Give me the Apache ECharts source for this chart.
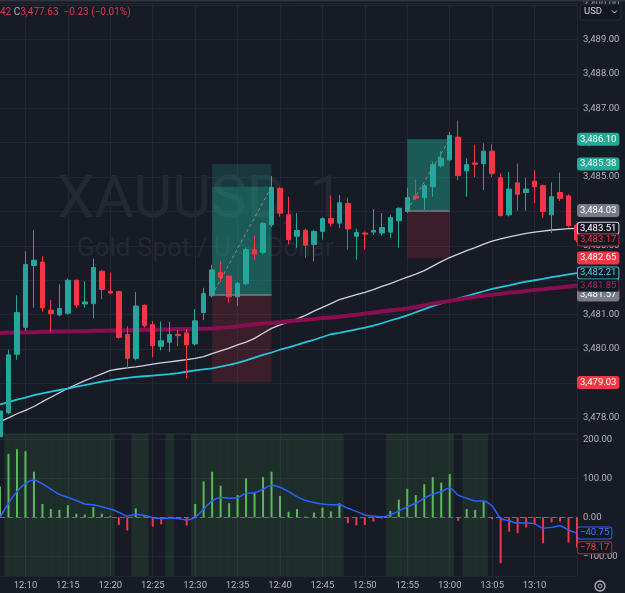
<!DOCTYPE html>
<html>
<head>
<meta charset="utf-8">
<script src="https://cdn.jsdelivr.net/npm/echarts@6/dist/echarts.min.js"></script>
<style>
html, body { margin: 0; padding: 0; background: #171b26; }
#chart { width: 625px; height: 593px; }
</style>
</head>
<body>
<div id="chart"></div>
<script>
// 1 minute bars, 12:07 .. 13:15
const times = ['12:07','12:08','12:09','12:10','12:11','12:12','12:13','12:14','12:15','12:16',
  '12:17','12:18','12:19','12:20','12:21','12:22','12:23','12:24','12:25','12:26',
  '12:27','12:28','12:29','12:30','12:31','12:32','12:33','12:34','12:35','12:36',
  '12:37','12:38','12:39','12:40','12:41','12:42','12:43','12:44','12:45','12:46',
  '12:47','12:48','12:49','12:50','12:51','12:52','12:53','12:54','12:55','12:56',
  '12:57','12:58','12:59','13:00','13:01','13:02','13:03','13:04','13:05','13:06',
  '13:07','13:08','13:09','13:10','13:11','13:12','13:13','13:14','13:15'];

const open = [3477.45,3478.15,3479.85,3480.63,3482.43,3482.53,3481.13,3480.99,3481.04,3482.00,
  3481.31,3481.32,3482.26,3481.68,3481.67,3480.42,3479.73,3481.27,3480.71,3480.08,
  3480.20,3480.43,3480.47,3480.15,3481.06,3481.55,3482.22,3482.12,3481.52,3481.90,
  3482.89,3482.81,3483.61,3484.67,3483.90,3483.28,3483.45,3483.04,3483.42,3483.80,
  3483.66,3484.23,3483.28,3483.37,3483.40,3483.37,3483.40,3483.73,3484.00,3484.45,
  3484.40,3484.72,3485.33,3485.50,3486.16,3485.18,3485.41,3485.39,3485.75,3484.98,
  3483.90,3484.83,3484.55,3484.88,3484.75,3483.90,3484.55,3484.45,3483.60];
const close = [3478.20,3479.83,3481.06,3482.46,3482.58,3481.20,3481.03,3481.18,3482.00,3481.28,
  3481.37,3482.37,3481.73,3481.63,3480.34,3479.73,3481.25,3480.68,3480.10,3480.24,
  3480.42,3480.39,3480.12,3480.82,3481.61,3482.30,3482.08,3481.52,3481.91,3482.89,
  3482.76,3483.65,3484.70,3483.95,3483.18,3483.45,3483.02,3483.42,3483.79,3483.66,
  3484.25,3483.49,3483.39,3483.34,3483.45,3483.53,3483.82,3484.09,3484.40,3484.38,
  3484.75,3485.36,3485.55,3486.21,3485.04,3485.36,3485.37,3485.75,3485.10,3483.88,
  3484.65,3484.50,3484.65,3484.72,3484.00,3484.43,3484.38,3483.59,3483.17];
const low = [3477.40,3478.10,3479.69,3480.53,3481.20,3481.08,3480.49,3480.95,3481.00,3481.20,
  3481.20,3480.89,3481.45,3481.60,3480.30,3479.44,3479.67,3480.63,3479.76,3479.96,
  3479.91,3480.08,3479.14,3480.10,3480.84,3481.50,3481.95,3481.35,3481.25,3481.85,
  3482.60,3482.75,3483.55,3483.85,3483.04,3482.94,3482.65,3482.55,3483.18,3483.56,
  3483.52,3482.89,3482.60,3482.89,3483.32,3483.30,3483.23,3482.94,3483.95,3484.33,
  3484.05,3484.43,3485.28,3485.45,3484.91,3484.43,3485.00,3484.62,3485.00,3483.85,
  3483.85,3484.02,3484.02,3484.24,3483.82,3483.37,3484.30,3483.54,3483.10];
const high = [3478.55,3479.98,3481.56,3482.84,3483.45,3482.70,3481.43,3481.88,3482.05,3482.02,
  3481.97,3482.63,3482.30,3482.22,3481.70,3480.66,3481.66,3481.30,3480.82,3480.80,
  3480.79,3480.56,3480.58,3481.16,3481.78,3482.45,3482.55,3482.15,3481.95,3482.95,
  3483.29,3483.70,3485.03,3484.72,3484.43,3483.95,3483.50,3483.45,3483.83,3484.46,
  3484.48,3484.40,3483.50,3483.42,3484.07,3483.95,3483.90,3484.12,3484.69,3484.93,
  3484.80,3485.45,3485.75,3486.31,3486.64,3485.55,3485.94,3485.98,3485.95,3485.10,
  3485.15,3485.39,3484.98,3485.20,3484.78,3484.84,3485.13,3484.50,3483.65];

// moving averages
const maFast = [3477.89,3478.00,3478.12,3478.22,3478.33,3478.47,3478.60,3478.73,3478.86,3478.97,
  3479.08,3479.18,3479.28,3479.38,3479.42,3479.45,3479.48,3479.52,3479.56,3479.60,
  3479.63,3479.66,3479.69,3479.73,3479.78,3479.87,3479.95,3480.03,3480.12,3480.20,
  3480.31,3480.46,3480.60,3480.70,3480.79,3480.88,3480.98,3481.10,3481.21,3481.32,
  3481.44,3481.51,3481.58,3481.65,3481.73,3481.82,3481.90,3482.00,3482.09,3482.18,
  3482.28,3482.41,3482.54,3482.66,3482.76,3482.86,3482.95,3483.05,3483.14,3483.20,
  3483.26,3483.31,3483.36,3483.40,3483.43,3483.46,3483.48,3483.50,3483.51];
const maMid = [3478.39,3478.46,3478.53,3478.59,3478.66,3478.71,3478.76,3478.81,3478.85,3478.91,
  3478.95,3479.00,3479.05,3479.09,3479.13,3479.16,3479.19,3479.21,3479.23,3479.25,
  3479.27,3479.30,3479.34,3479.38,3479.41,3479.44,3479.49,3479.54,3479.60,3479.67,
  3479.75,3479.83,3479.90,3479.98,3480.05,3480.12,3480.20,3480.27,3480.35,3480.43,
  3480.47,3480.52,3480.57,3480.62,3480.68,3480.75,3480.83,3480.90,3480.98,3481.07,
  3481.16,3481.25,3481.33,3481.40,3481.47,3481.54,3481.61,3481.68,3481.75,3481.80,
  3481.85,3481.91,3481.96,3482.00,3482.04,3482.09,3482.13,3482.17,3482.21];
const maSlow = [3480.47,3480.48,3480.48,3480.49,3480.49,3480.50,3480.50,3480.51,3480.51,3480.52,
  3480.52,3480.53,3480.53,3480.54,3480.54,3480.55,3480.55,3480.56,3480.56,3480.57,
  3480.57,3480.58,3480.58,3480.58,3480.59,3480.60,3480.62,3480.63,3480.66,3480.69,
  3480.72,3480.74,3480.76,3480.78,3480.81,3480.83,3480.85,3480.87,3480.90,3480.92,
  3480.94,3480.97,3481.00,3481.03,3481.06,3481.09,3481.12,3481.15,3481.18,3481.22,
  3481.27,3481.32,3481.36,3481.40,3481.44,3481.48,3481.52,3481.55,3481.58,3481.61,
  3481.64,3481.66,3481.69,3481.72,3481.74,3481.77,3481.79,3481.82,3481.85];

// oscillator pane
const hist = [79,163,175,170,117,34,21,19,31,9,
  7,26,9,3,-20,-34,23,3,-24,-18,
  1,-2,-21,34,92,117,81,36,57,100,
  63,103,117,55,14,21,2,12,25,15,
  36,-15,-21,-20,-11,-3,16,45,73,57,
  85,103,89,111,-9,21,19,40,-5,-118,
  -37,-41,-26,-17,-67,-13,-11,-65,-78];
const signal = [0,36,66,87,96,86,72,59,51,43,
  34,32,27,21,13,3,7,5,-1,-3,
  -2,-3,-7,0,21,42,51,49,50,62,
  63,72,82,77,66,53,43,38,34,32,
  32,23,15,6,3,1,6,16,27,36,
  49,59,66,75,57,49,42,42,29,-3,
  -9,-15,-15,-17,-28,-26,-22,-33,-41];
const shade = [0,1,1,1,1,1,1,1,1,1,
  1,1,1,1,0,0,1,1,0,0,
  1,0,0,1,1,1,1,1,1,1,
  1,1,1,1,1,1,1,1,1,1,
  1,0,0,0,0,0,1,1,1,1,
  1,1,1,1,0,1,1,1,0,0,
  0,0,0,0,0,0,0,0,0];

// long position tools
const posStart = ['12:32', '12:55'];
const posEnd = ['12:39', '13:00'];
const posEntry = [3481.57, 3484.03];
const posTarget = [3485.38, 3486.10];
const posStop = [3479.03, 3482.65];
const posReached = [3484.72, 3486.10];

// price scale tags
const priceTags = [3486.10, 3485.38, 3484.03, 3483.51, 3483.17, 3482.65, 3482.21, 3481.57, 3481.85, 3479.03];
const oscTags = [-40.75, -78.17];

const BG = '#171b26';
const GRID = '#222633';
const TXT = '#b2b5be';
const UP = '#26a69a';
const DOWN = '#f23645';
const FONT = 'Roboto, sans-serif';

const priceTagStyle = [
  { bg: '#22ab94', bd: '#22ab94', fg: '#ffffff' },
  { bg: '#22ab94', bd: '#22ab94', fg: '#ffffff' },
  { bg: '#787b86', bd: '#787b86', fg: '#ffffff' },
  { bg: '#131722', bd: '#d1d4dc', fg: '#ffffff' },
  { bg: '#131722', bd: '#b22833', fg: '#f23645' },
  { bg: '#f23645', bd: '#f23645', fg: '#ffffff' },
  { bg: '#131722', bd: '#26c6da', fg: '#4dd0e1' },
  { bg: '#787b86', bd: '#787b86', fg: '#ffffff' },
  { bg: '#131722', bd: '#880e4f', fg: '#a3265f' },
  { bg: '#f23645', bd: '#f23645', fg: '#ffffff' }
];
const oscTagStyle = [
  { bg: '#131722', bd: '#2962ff', fg: '#4a7bff' },
  { bg: '#131722', bd: '#b22833', fg: '#f23645' }
];

function fmt(v) {
  const s = Math.abs(v).toFixed(2).replace(/\B(?=(\d{3})+(?!\d))/g, ',');
  return (v < 0 ? '\u2212' : '') + s;
}
const onFive = (i, v) => Number(String(v).split(':')[1]) % 5 === 0;

function tag(v, s) {
  return {
    yAxis: v,
    lineStyle: { color: 'rgba(0,0,0,0)', width: 1 },
    label: {
      show: true, position: 'end', distance: 1, formatter: fmt(v), opacity: 1,
      color: s.fg, backgroundColor: s.bg, borderColor: s.bd, borderWidth: 1, borderRadius: 2,
      padding: [1, 2, 0, 2], fontSize: 9.5, lineHeight: 10, fontFamily: FONT
    }
  };
}

const chart = echarts.init(document.getElementById('chart'));

const option = {
  backgroundColor: BG,
  animation: false,
  grid: [
    { left: 0, right: 48, top: 0, height: 433 },
    { left: 0, right: 48, top: 434, height: 142 }
  ],
  xAxis: [
    {
      type: 'category', gridIndex: 0, data: times, boundaryGap: false,
      axisLine: { show: false }, axisTick: { show: false }, axisLabel: { show: false },
      splitLine: { show: true, interval: onFive, lineStyle: { color: GRID } }
    },
    {
      type: 'category', gridIndex: 1, data: times, boundaryGap: false,
      axisLine: { show: false }, axisTick: { show: false },
      axisLabel: {
        interval: (i, v) => onFive(i, v) && v !== '13:15',
        color: TXT, fontSize: 9.5, fontFamily: FONT, margin: 5
      },
      splitLine: { show: true, interval: onFive, lineStyle: { color: GRID } }
    },
    { type: 'category', gridIndex: 1, data: times, boundaryGap: false, show: false }
  ],
  yAxis: [
    {
      type: 'value', gridIndex: 0, position: 'right', min: 3477.56, max: 3490.06,
      minInterval: 1, maxInterval: 1,
      axisLine: { show: false }, axisTick: { show: false },
      axisLabel: { color: TXT, fontSize: 9.5, fontFamily: FONT, margin: 6, showMinLabel: false, showMaxLabel: false, formatter: fmt },
      splitLine: { lineStyle: { color: GRID } }
    },
    {
      type: 'value', gridIndex: 1, position: 'right', min: -151, max: 214,
      minInterval: 100, maxInterval: 100,
      axisLine: { show: false }, axisTick: { show: false },
      axisLabel: { color: TXT, fontSize: 9.5, fontFamily: FONT, margin: 6, showMinLabel: false, showMaxLabel: false, formatter: fmt },
      splitLine: { lineStyle: { color: GRID } }
    },
    { type: 'value', gridIndex: 1, min: 0, max: 1, show: false }
  ],
  graphic: [
    { type: 'rect', z: 100, silent: true, shape: { x: 0, y: 0, width: 625, height: 1.5 }, style: { fill: '#2f333e' } },
    {
      type: 'text', left: 57, top: 172, z: 0, silent: true,
      style: { text: 'XAUUSD, 1', fontSize: 60, fontFamily: FONT, fill: 'rgba(255,255,255,0.06)' }
    },
    {
      type: 'text', left: 77, top: 236, z: 0, silent: true,
      style: { text: 'Gold Spot / U.S. Dollar', fontSize: 26, fontFamily: FONT, fill: 'rgba(255,255,255,0.06)' }
    },
    {
      type: 'text', left: 0, top: 7, z: 100, silent: true,
      style: {
        text: '{r|42 }{c|C}{r|3,477.63  \u22120.23 (\u22120.01%)}',
        rich: {
          r: { fill: '#e2334a', fontSize: 10, fontFamily: FONT },
          c: { fill: TXT, fontSize: 10, fontFamily: FONT }
        }
      }
    },
    { type: 'rect', z: 100, silent: true, shape: { x: 580, y: 4, width: 41, height: 16, r: 3 }, style: { fill: '#131722', stroke: '#2a2e39', lineWidth: 1 } },
    { type: 'text', z: 101, silent: true, left: 584, top: 7, style: { text: 'USD', fontSize: 9.5, fontFamily: FONT, fill: '#d1d4dc' } },
    { type: 'polyline', z: 101, silent: true, shape: { points: [[612, 10.5], [614.5, 13], [617, 10.5]] }, style: { stroke: '#d1d4dc', lineWidth: 1, fill: null } },
    { type: 'circle', z: 101, silent: true, shape: { cx: 600, cy: 586, r: 5 }, style: { stroke: TXT, lineWidth: 1.3, fill: null } },
    { type: 'circle', z: 101, silent: true, shape: { cx: 600, cy: 586, r: 2 }, style: { stroke: TXT, lineWidth: 1, fill: null } }
  ],
  series: [
    {
      name: 'Trend', type: 'bar', xAxisIndex: 2, yAxisIndex: 2, silent: true, z: 0,
      data: shade, barWidth: '100%',
      itemStyle: { color: 'rgba(76,175,80,0.13)' }
    },
    {
      name: 'Histogram', type: 'bar', xAxisIndex: 1, yAxisIndex: 1, silent: true, z: 2,
      barWidth: 2,
      data: hist.map(v => ({ value: v, itemStyle: { color: v >= 0 ? '#5cb85c' : '#f23645' } })),
      markLine: {
        silent: true, symbol: ['none', 'none'], label: { show: false },
        lineStyle: { color: '#6a6d78', type: [5, 3], width: 1 },
        data: [{ yAxis: 0 }]
      }
    },
    {
      name: 'Signal', type: 'line', xAxisIndex: 1, yAxisIndex: 1, silent: true, z: 3,
      data: signal, symbol: 'none', smooth: 0.25,
      lineStyle: { color: '#2962ff', width: 1.5 }
    },
    {
      name: 'Osc tags', type: 'line', xAxisIndex: 1, yAxisIndex: 1, data: [], clip: false, silent: true,
      markLine: { silent: true, symbol: ['none', 'none'], data: oscTags.map((v, k) => tag(v, oscTagStyle[k])) }
    },
    {
      name: 'Positions', type: 'line', xAxisIndex: 0, yAxisIndex: 0, data: [], silent: true, z: 1,
      markArea: {
        silent: true,
        data: posStart.flatMap((s, k) => [
          [{ xAxis: s, yAxis: posEntry[k], itemStyle: { color: 'rgba(34,171,148,0.2)' } }, { xAxis: posEnd[k], yAxis: posTarget[k] }],
          [{ xAxis: s, yAxis: posEntry[k], itemStyle: { color: 'rgba(34,171,148,0.3)' } }, { xAxis: posEnd[k], yAxis: posReached[k] }],
          [{ xAxis: s, yAxis: posEntry[k], itemStyle: { color: 'rgba(242,54,69,0.16)' } }, { xAxis: posEnd[k], yAxis: posStop[k] }]
        ])
      },
      markLine: {
        silent: true, symbol: ['none', 'none'], label: { show: false },
        data: posStart.flatMap((s, k) => [
          [{ coord: [s, posEntry[k]], lineStyle: { color: '#787b86', width: 1.5, type: 'solid' } }, { coord: [posEnd[k], posEntry[k]] }],
          [{ coord: [s, posEntry[k]], lineStyle: { color: '#8a8d96', width: 1, type: [3, 3] } }, { coord: [posEnd[k], posReached[k]] }]
        ])
      }
    },
    {
      name: 'MA fast', type: 'line', xAxisIndex: 0, yAxisIndex: 0, data: maFast, symbol: 'none', silent: true, z: 2,
      lineStyle: { color: '#d1d4dc', width: 1.3 }
    },
    {
      name: 'MA mid', type: 'line', xAxisIndex: 0, yAxisIndex: 0, data: maMid, symbol: 'none', silent: true, z: 2,
      lineStyle: { color: '#26c6da', width: 1.8 }
    },
    {
      name: 'MA slow', type: 'line', xAxisIndex: 0, yAxisIndex: 0, data: maSlow, symbol: 'none', silent: true, z: 2,
      lineStyle: { color: '#880e4f', width: 4 }
    },
    {
      name: 'XAUUSD', type: 'candlestick', xAxisIndex: 0, yAxisIndex: 0, silent: true, z: 3,
      barWidth: 5,
      data: times.map((t, i) => [open[i], close[i], low[i], high[i]]),
      itemStyle: { color: UP, color0: DOWN, borderColor: UP, borderColor0: DOWN, borderWidth: 1 }
    },
    {
      name: 'Price tags', type: 'line', xAxisIndex: 0, yAxisIndex: 0, data: [], clip: false, silent: true, z: 5,
      markLine: { silent: true, symbol: ['none', 'none'], data: priceTags.map((v, k) => tag(v, priceTagStyle[k])) }
    }
  ]
};

chart.setOption(option);
</script>
</body>
</html>
